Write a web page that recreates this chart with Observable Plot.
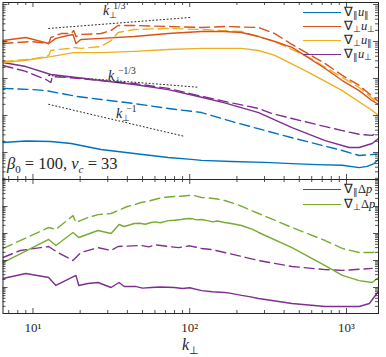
<!DOCTYPE html>
<html><head><meta charset="utf-8">
<script src="https://cdn.jsdelivr.net/npm/d3@7"></script>
<script src="https://cdn.jsdelivr.net/npm/@observablehq/plot@0.6"></script>
<style>
body{margin:0;background:#fff;}
#wrap{position:relative;width:386px;height:357px;font-family:"Liberation Serif",serif;color:#262626;overflow:hidden;}
#top,#bot{position:absolute;left:0;}
#top{top:0;}
#bot{top:178px;}
.sw{position:absolute;height:0;border-top:1.5px solid;}
.lt{position:absolute;font-size:12.5px;line-height:11px;white-space:nowrap;}
.lt sub{font-size:8.5px;vertical-align:-2px;line-height:0;}
#beta{position:absolute;left:7px;top:156px;font-size:16.5px;line-height:16.5px;white-space:nowrap;}
#beta sub{font-size:11px;vertical-align:-4px;line-height:0;}
#xlab{position:absolute;left:182px;top:337px;font-size:16px;line-height:16px;}
#xlab sub{font-size:11px;vertical-align:-4px;line-height:0;}
</style></head>
<body><div id="wrap"><div id="top"></div><div id="bot"></div></div>
<script>
// ---------- domains / colours ----------
const xDomain = [6.44, 1600];
const yTopDomain = [0.0186, 1132];
const yBotDomain = [0.0109, 1000];
const cBlue = "#0072BD", cRed = "#D95319", cYellow = "#EDB120", cPurple = "#7E2F8E", cGreen = "#77AC30";
const axisColor = "#262626";

// x tick labels (bottom panel)
const xTickValues = [10, 100, 1000];
const xTickLabels = ["10¹", "10²", "10³"];

// ---------- top panel data ----------
const kParParSolid = [6.44, 9.0, 13.0, 17.5, 27.2, 44.3, 72.9, 102.6, 119, 185, 300, 449, 650, 940, 1205, 1354, 1500, 1600];
const vParParSolid = [0.186, 0.205, 0.198, 0.175, 0.12, 0.094, 0.073, 0.065, 0.061, 0.057, 0.054, 0.050, 0.047, 0.045, 0.039, 0.042, 0.050, 0.065];
const kParParDash = [6.44, 10.1, 12.1, 17.5, 18.8, 27.2, 44.3, 72.9, 119, 185, 449, 940, 1205, 1458, 1560];
const vParParDash = [5.4, 5.0, 4.7, 3.5, 3.3, 2.7, 2.1, 1.55, 1.2, 0.69, 0.25, 0.113, 0.083, 0.088, 0.09];

const kPerpPerpSolid = [6.44, 9.0, 12.6, 14.0, 16.7, 18.0, 18.8, 20.2, 27.2, 44.3, 72.9, 119, 167, 214, 275, 349, 449, 520, 731, 940, 1205, 1458, 1600];
const vPerpPerpSolid = [106, 128, 88, 121, 145, 155, 88, 113, 121, 136, 164, 186, 186, 175, 136, 100, 69, 47, 18.6, 8.8, 4.7, 2.5, 2.0];
const kPerpPerpDash = [6.44, 9.66, 12.6, 13.0, 15.1, 17.5, 18.2, 18.8, 20.2, 27.2, 31.5, 34.9, 44.3, 72.9, 119, 167, 275, 349, 449, 731, 940, 1205, 1458, 1600];
const vPerpPerpDash = [88, 100, 88, 128, 164, 164, 198, 136, 155, 164, 198, 271, 271, 254, 239, 254, 239, 164, 83, 25.4, 12.1, 6.5, 3.3, 2.4];

const kPerpParSolid = [6.44, 9.0, 13.0, 16.7, 18.2, 27.2, 44.3, 72.9, 119, 214, 275, 349, 577, 940, 1458, 1600];
const vPerpParSolid = [27, 31, 39, 47, 50, 50, 54, 61, 65, 65, 57, 42, 14.5, 4.7, 1.36, 1.0];
const kPerpParDash = [6.44, 9.66, 12.1, 12.6, 13.0, 14.4, 17.5, 18.2, 20.2, 27.2, 31.5, 34.9, 44.3, 72.9, 119, 214, 349, 577, 940, 1205, 1458, 1600];
const vPerpParDash = [29, 33, 39, 42, 57, 61, 65, 69, 65, 73, 106, 175, 211, 225, 211, 186, 100, 37, 10.6, 5.7, 2.9, 2.0];

const kParPerpSolid = [6.44, 9.0, 13.0, 16.7, 27.2, 44.3, 72.9, 119, 167, 275, 449, 731, 1040, 1205, 1458, 1600];
const vParPerpSolid = [27, 21, 12.8, 11.3, 8.8, 6.9, 5.0, 3.1, 2.2, 1.2, 0.47, 0.21, 0.136, 0.136, 0.175, 0.24];
const kParPerpDash = [6.44, 9.0, 12.1, 13.0, 13.3, 16.7, 27.2, 44.3, 72.9, 119, 167, 275, 334, 449, 603, 940, 1205, 1458, 1600];
const vParPerpDash = [22.5, 15.5, 9.4, 7.8, 11.3, 10.6, 8.8, 7.3, 5.4, 3.3, 2.4, 1.55, 1.13, 0.83, 0.61, 0.39, 0.31, 0.29, 0.35];

// reference power-law guides
const refK = [[12.6, 100], [12.6, 114], [12.6, 92]];
const refV = [[225, 445], [12.05, 5.78], [2.0, 0.274]];
const refLabelK = [28, 30.1, 33.9];
const refLabelV = [667, 11.7, 1.1];
const refLabelExp = ["1/3", "−1/3", "−1"];

// ---------- bottom panel data ----------
const kPerpDpSolid = [6.44, 12.6, 14.0, 18.0, 19.6, 26.0, 31.5, 35.4, 38.2, 44.3, 48, 52, 56.8, 60, 65, 72.9, 80, 88, 97.9, 105, 110, 119, 130, 140, 150, 167, 180, 195, 214, 230, 250, 275, 449, 731, 940, 1205, 1458, 1600];
const vPerpDpSolid = [0.84, 6.0, 3.6, 10.9, 7.1, 12.9, 10, 21.5, 18.2, 23.4, 24, 22, 25.5, 27, 25, 30, 31, 33, 36, 35, 32, 33, 30, 27, 29, 25.5, 24, 22, 19.8, 17, 14.5, 10.9, 3.0, 0.65, 0.28, 0.18, 0.153, 0.234];
const kPerpDpDash = [6.44, 12.6, 14.0, 18.0, 18.8, 22.4, 26.0, 31.5, 34.9, 40, 45, 49.0, 55, 63.0, 70, 79.6, 88, 97.9, 105, 119, 130, 150, 167, 200, 230, 275, 449, 731, 940, 1205, 1458, 1560];
const vPerpDpDash = [2.8, 16.7, 14.1, 46, 25.5, 39, 50, 55, 71, 100, 120, 141, 160, 198, 220, 235, 240, 255, 260, 215, 210, 190, 167, 120, 85, 55, 16.7, 5.5, 2.8, 1.98, 1.98, 2.15];
const kParDpSolid = [6.44, 9.0, 12.6, 14.0, 18.8, 19.6, 22.4, 26.0, 31.5, 35.4, 38.2, 45, 50, 56.8, 65, 79.6, 90, 100, 119, 140, 167, 180, 214, 240, 275, 449, 731, 1205, 1400, 1560, 1600];
const vParDpSolid = [0.215, 0.33, 0.234, 0.119, 0.28, 0.119, 0.141, 0.153, 0.1, 0.153, 0.109, 0.11, 0.095, 0.1, 0.105, 0.1, 0.092, 0.098, 0.077, 0.07, 0.065, 0.062, 0.051, 0.046, 0.039, 0.0255, 0.0198, 0.0198, 0.0255, 0.06, 0.068];
const kParDpDash = [6.44, 8.3, 11.2, 12.6, 14.4, 18.0, 20.2, 26.0, 31.5, 34.9, 49.0, 55, 60, 72.9, 85, 100, 119, 140, 167, 275, 449, 731, 940, 1458];
const vParDpDash = [1.29, 2.35, 3.0, 3.3, 1.98, 1.0, 1.98, 3.0, 2.35, 3.3, 3.6, 3.2, 3.8, 3.3, 3.0, 3.5, 2.8, 2.5, 1.98, 1.0, 0.60, 0.46, 0.43, 0.51];

// legends
const topLegendColors = [cBlue, cRed, cYellow, cPurple];
const topLegendHtml = ["∇<sub>∥</sub><i>u</i><sub>∥</sub>", "∇<sub>⊥</sub><i>u</i><sub>⊥</sub>", "∇<sub>⊥</sub><i>u</i><sub>∥</sub>", "∇<sub>∥</sub><i>u</i><sub>⊥</sub>"];
const botLegendColors = [cPurple, cGreen];
const botLegendHtml = ["∇<sub>∥</sub>Δ<i>p</i>", "∇<sub>⊥</sub>Δ<i>p</i>"];

// ---------- helpers ----------
const rows = (ks, vs) => ks.map((k, i) => ({k, v: vs[i]}));
const curve = (ks, vs, color, dashed) => Plot.line(rows(ks, vs), {
  x: "k", y: "v", stroke: color, strokeWidth: 1.4, clip: true,
  strokeDasharray: dashed ? "10,5" : null
});
const W = 386, ML = 2.5, MR = 8;
const PW = W - ML - MR;
const isMajor = t => Math.abs(Math.log10(t) - Math.round(Math.log10(t))) < 1e-9;
function tickMarks(yDom, ph) {
  const xt = d3.scaleLog().domain(xDomain).ticks();
  const yt = d3.scaleLog().domain(yDom).ticks();
  const out = [];
  const st = {stroke: axisColor, strokeWidth: 0.8};
  for (const [arr, len] of [[xt.filter(isMajor), 5], [xt.filter(t => !isMajor(t)), 3]]) {
    out.push(Plot.tickX(arr, {x: d => d, insetTop: ph - len, ...st}));
    out.push(Plot.tickX(arr, {x: d => d, insetBottom: ph - len, ...st}));
  }
  for (const [arr, len] of [[yt.filter(isMajor), 5], [yt.filter(t => !isMajor(t)), 3]]) {
    out.push(Plot.tickY(arr, {y: d => d, insetRight: PW - len, ...st}));
    out.push(Plot.tickY(arr, {y: d => d, insetLeft: PW - len, ...st}));
  }
  return out;
}

// ---------- top panel ----------
const topH = 180, topMT = 2, topMB = 1;
const refRows = refK.map((ks, i) => rows(ks, refV[i]));
const refLabels = refLabelK.map((k, i) => ({k, v: refLabelV[i], exp: refLabelExp[i]}));
const topSvg = Plot.plot({
  width: W, height: topH, marginTop: topMT, marginBottom: topMB, marginLeft: ML, marginRight: MR,
  style: {fontFamily: "Liberation Serif, serif", color: axisColor, background: "white"},
  x: {type: "log", domain: xDomain, axis: null},
  y: {type: "log", domain: yTopDomain, axis: null},
  marks: [
    ...refRows.map(r => Plot.line(r, {x: "k", y: "v", stroke: axisColor, strokeWidth: 1, strokeDasharray: "1,2.6"})),
    curve(kParParDash, vParParDash, cBlue, true),
    curve(kParPerpDash, vParPerpDash, cPurple, true),
    curve(kPerpParDash, vPerpParDash, cYellow, true),
    curve(kPerpPerpDash, vPerpPerpDash, cRed, true),
    curve(kParParSolid, vParParSolid, cBlue, false),
    curve(kParPerpSolid, vParPerpSolid, cPurple, false),
    curve(kPerpParSolid, vPerpParSolid, cYellow, false),
    curve(kPerpPerpSolid, vPerpPerpSolid, cRed, false),
    Plot.text(refLabels, {x: "k", y: "v", text: d => "k|" + d.exp, textAnchor: "start", fontSize: 14, fill: axisColor}),
    ...tickMarks(yTopDomain, topH - topMT - topMB),
    Plot.frame({stroke: axisColor, strokeWidth: 1})
  ]
});
const ns = "http://www.w3.org/2000/svg";
topSvg.querySelectorAll("text").forEach(el => {
  const s = el.textContent;
  if (!s.startsWith("k|")) return;
  const exp = s.slice(2);
  el.textContent = "";
  const a = document.createElementNS(ns, "tspan"); a.textContent = "k"; a.setAttribute("font-style", "italic");
  const b = document.createElementNS(ns, "tspan"); b.textContent = "⊥"; b.setAttribute("font-size", "9"); b.setAttribute("dy", "3");
  const c = document.createElementNS(ns, "tspan"); c.textContent = exp; c.setAttribute("font-size", "9.5"); c.setAttribute("dy", "-9"); c.setAttribute("dx", "-4");
  el.append(a, b, c);
});
document.getElementById("top").append(topSvg);

// ---------- bottom panel ----------
const botH = 179, botMT = 1, botMB = 44;
const botSvg = Plot.plot({
  width: W, height: botH, marginTop: botMT, marginBottom: botMB, marginLeft: ML, marginRight: MR,
  style: {fontFamily: "Liberation Serif, serif", color: axisColor, background: "transparent"},
  x: {type: "log", domain: xDomain, axis: null},
  y: {type: "log", domain: yBotDomain, axis: null},
  marks: [
    curve(kPerpDpDash, vPerpDpDash, cGreen, true),
    curve(kParDpDash, vParDpDash, cPurple, true),
    curve(kPerpDpSolid, vPerpDpSolid, cGreen, false),
    curve(kParDpSolid, vParDpSolid, cPurple, false),
    Plot.axisX(xTickValues, {tickSize: 0, tickPadding: 9, fontSize: 13, label: null,
      tickFormat: d => xTickLabels[xTickValues.indexOf(d)]}),
    ...tickMarks(yBotDomain, botH - botMT - botMB),
    Plot.frame({stroke: axisColor, strokeWidth: 1})
  ]
});
document.getElementById("bot").append(botSvg);

// ---------- overlays (legends, annotations) ----------
const wrap = document.getElementById("wrap");
function legend(colors, htmls, y0, dy) {
  colors.forEach((c, i) => {
    const y = y0 + i * dy;
    const sw = document.createElement("div");
    sw.className = "sw"; sw.style.borderTopColor = c;
    sw.style.left = "303px"; sw.style.width = "38px"; sw.style.top = (y - 0.75) + "px";
    const t = document.createElement("div");
    t.className = "lt"; t.innerHTML = htmls[i];
    t.style.left = "344px"; t.style.top = (y - 6) + "px";
    wrap.append(sw, t);
  });
}
legend(topLegendColors, topLegendHtml, 13, 14);
legend(botLegendColors, botLegendHtml, 190, 15);
const beta = document.createElement("div");
beta.id = "beta";
beta.innerHTML = "<i>β</i><sub>0</sub> = 100, <i>ν<sub>c</sub></i> = 33";
wrap.append(beta);
const xl = document.createElement("div");
xl.id = "xlab";
xl.innerHTML = "<i>k</i><sub>⊥</sub>";
wrap.append(xl);
</script>
</body></html>
